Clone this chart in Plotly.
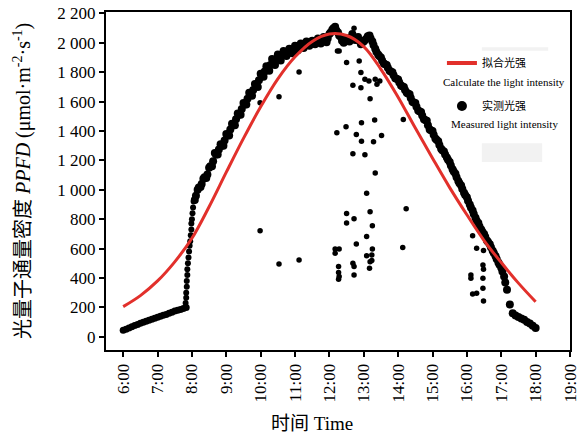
import plotly.graph_objects as go

# ---------------- data ----------------
# Main measured band, 5-minute readings (PPFD, µmol·m-2·s-1)
band_morning_times = ["6:00", "6:05", "6:10", "6:15", "6:20", "6:25", "6:30", "6:35", "6:40", "6:45",
                      "6:50", "6:55", "7:00", "7:05", "7:10", "7:15", "7:20", "7:25", "7:30", "7:35",
                      "7:40", "7:45", "7:50"]
band_morning_values = [45, 52, 60, 68, 76, 84, 92, 98, 105, 112,
                       119, 126, 133, 140, 146, 152, 160, 167, 175, 181,
                       186, 193, 200]

jump_times = ["7:49", "7:50", "7:50", "7:51", "7:51", "7:52", "7:52", "7:53", "7:54", "7:55",
              "7:56", "7:57", "7:58", "7:59", "7:59", "8:00", "8:01", "8:02", "8:03"]
jump_values = [230, 265, 300, 340, 380, 420, 460, 500, 540, 580,
               620, 650, 690, 730, 770, 800, 840, 880, 920]

band_day_times = ["8:05", "8:10", "8:15", "8:20", "8:25", "8:30", "8:35", "8:40", "8:45", "8:50", "8:55",
                  "9:00", "9:05", "9:10", "9:15", "9:20", "9:25", "9:30", "9:35", "9:40", "9:45", "9:50", "9:55",
                  "10:00", "10:05", "10:10", "10:15", "10:20", "10:25", "10:30", "10:35", "10:40", "10:45", "10:50", "10:55",
                  "11:00", "11:05", "11:10", "11:15", "11:20", "11:25", "11:30", "11:35", "11:40", "11:45", "11:50", "11:55",
                  "12:00", "12:05", "12:10", "12:15", "12:20", "12:25", "12:30", "12:35", "12:40", "12:45", "12:50", "12:55",
                  "13:00", "13:05", "13:10", "13:15", "13:20", "13:25", "13:30", "13:35", "13:40", "13:45", "13:50", "13:55",
                  "14:00", "14:05", "14:10", "14:15", "14:20", "14:25", "14:30", "14:35", "14:40", "14:45", "14:50", "14:55",
                  "15:00", "15:05", "15:10", "15:15", "15:20", "15:25", "15:30", "15:35", "15:40", "15:45", "15:50", "15:55",
                  "16:00", "16:05", "16:10", "16:15", "16:20", "16:25", "16:30", "16:35", "16:40", "16:45", "16:50", "16:55",
                  "17:00", "17:05", "17:10", "17:15", "17:20", "17:25", "17:30", "17:35", "17:40", "17:45", "17:50", "17:55",
                  "18:00"]
band_day_values = [930, 1000, 1020, 1075, 1080, 1150, 1160, 1250, 1240, 1310, 1300,
                   1380, 1370, 1450, 1440, 1520, 1510, 1590, 1580, 1660, 1640, 1720, 1700,
                   1790, 1770, 1840, 1810, 1890, 1850, 1920, 1880, 1945, 1910, 1960, 1930,
                   1980, 1950, 1995, 1965, 2010, 1980, 2015, 1990, 2030, 1995, 2040, 2005,
                   2060, 2090, 2110, 2070, 2040, 2000, 2030, 2010, 2060, 2020, 2040, 1990,
                   2010, 2030, 2050, 2010, 1960, 1920, 1900, 1860, 1850, 1810, 1800, 1760,
                   1750, 1710, 1700, 1660, 1650, 1600, 1590, 1540, 1530, 1480, 1470, 1410,
                   1400, 1350, 1330, 1280, 1260, 1220, 1190, 1140, 1110, 1060, 1030, 980,
                   950, 900, 860, 810, 775, 730, 700, 655, 630, 585, 550, 505,
                   470, 410, 320, 220, 160, 145, 135, 125, 115, 100, 90, 75,
                   60]

# Second reading of the band, two minutes after each of the above
band_day2_times = ["8:07", "8:12", "8:17", "8:22", "8:27", "8:32", "8:37", "8:42", "8:47", "8:52", "8:57",
                   "9:02", "9:07", "9:12", "9:17", "9:22", "9:27", "9:32", "9:37", "9:42", "9:47", "9:52", "9:57",
                   "10:02", "10:07", "10:12", "10:17", "10:22", "10:27", "10:32", "10:37", "10:42", "10:47", "10:52", "10:57",
                   "11:02", "11:07", "11:12", "11:17", "11:22", "11:27", "11:32", "11:37", "11:42", "11:47", "11:52", "11:57",
                   "12:02", "12:07", "12:12", "12:17", "12:22", "12:27", "12:32", "12:37", "12:42", "12:47", "12:52", "12:57",
                   "13:02", "13:07", "13:12", "13:17", "13:22", "13:27", "13:32", "13:37", "13:42", "13:47", "13:52", "13:57",
                   "14:02", "14:07", "14:12", "14:17", "14:22", "14:27", "14:32", "14:37", "14:42", "14:47", "14:52", "14:57",
                   "15:02", "15:07", "15:12", "15:17", "15:22", "15:27", "15:32", "15:37", "15:42", "15:47", "15:52", "15:57",
                   "16:02", "16:07", "16:12", "16:17", "16:22", "16:27", "16:32", "16:37", "16:42", "16:47", "16:52", "16:57",
                   "17:02", "17:07"]
band_day2_values = [960, 1015, 1040, 1085, 1105, 1160, 1195, 1240, 1275, 1300, 1335,
                    1370, 1410, 1440, 1480, 1510, 1550, 1580, 1620, 1645, 1680, 1705, 1745,
                    1775, 1805, 1825, 1850, 1865, 1885, 1900, 1915, 1925, 1935, 1945, 1955,
                    1965, 1975, 1980, 1990, 1995, 2000, 2005, 2010, 2015, 2020, 2025, 2030,
                    2070, 2100, 2085, 2050, 2015, 2015, 2020, 2035, 2040, 2030, 2015, 2000,
                    2020, 2045, 2030, 1985, 1940, 1910, 1880, 1855, 1830, 1805, 1780, 1755,
                    1730, 1705, 1680, 1655, 1625, 1595, 1565, 1535, 1505, 1475, 1440, 1405,
                    1375, 1340, 1305, 1270, 1240, 1205, 1165, 1125, 1085, 1045, 1005, 965,
                    925, 880, 835, 790, 750, 715, 680, 645, 610, 570, 530, 490,
                    445, 370]

# Isolated measured points (cloud shading) away from the band
outlier_times = ["9:59", "9:59", "10:32", "10:32", "11:07", "11:07", "12:14", "12:17", "12:30", "12:43",
                 "12:52", "12:55", "12:41", "12:55", "13:02", "13:09", "13:20", "13:23", "13:28", "13:11",
                 "14:09", "12:13", "12:29", "12:56", "13:19", "12:47", "12:56", "13:17", "13:31", "12:41",
                 "13:02", "13:20", "13:05", "14:14", "13:11", "12:30", "12:30", "12:43", "13:15", "13:05",
                 "12:47", "14:08", "12:10", "12:17", "12:10", "13:15", "13:05", "13:14", "13:14", "13:11",
                 "12:41", "12:43", "12:16", "12:16", "12:17", "12:16", "12:43", "13:10",
                 "16:10", "16:17", "16:29", "16:28", "16:29", "16:07", "16:07", "16:28", "16:10", "16:17",
                 "16:28", "16:29"]
outlier_values = [721, 1593, 496, 1634, 523, 1802, 1945, 1945, 1866, 2100,
                  1877, 1798, 1711, 1695, 1752, 1741, 1752, 1718, 1741, 1620,
                  1479, 1388, 1429, 1457, 1475, 1377, 1331, 1327, 1370, 1245,
                  1238, 1115, 976, 872, 851, 838, 774, 803, 756, 683,
                  631, 608, 597, 597, 569, 597, 551, 556, 519, 510,
                  501, 478, 478, 437, 410, 392, 421, 467,
                  687, 603, 587, 489, 460, 421, 399, 399, 291, 297,
                  330, 244]

# Fitted (calculated) light intensity, half-hourly
fit_times = ["6:00", "6:30", "7:00", "7:30", "8:00", "8:30", "9:00", "9:30", "10:00", "10:30",
             "11:00", "11:30", "12:00", "12:30", "13:00", "13:30", "14:00", "14:30", "15:00", "15:30",
             "16:00", "16:30", "17:00", "17:30", "18:00"]
fit_values = [205, 280, 380, 510, 670, 885, 1120, 1350, 1565, 1755,
              1905, 2010, 2060, 2050, 1975, 1820, 1630, 1420, 1215, 1015,
              830, 655, 505, 365, 238]

tick_hours = list(range(6, 20))
tick_labels = [f"{h}:00" for h in tick_hours]

legend_fit_cn = "拟合光强"
legend_fit_en = "Calculate the light intensity"
legend_meas_cn = "实测光强"
legend_meas_en = "Measured light intensity"
x_title = "时间 Time"
y_title = "光量子通量密度 <i>PPFD</i> (μmol·m<sup>-2</sup>·s<sup>-1</sup>)"


def to_hours(ts):
    out = []
    for t in ts:
        h, m = t.split(":")
        out.append(int(h) + int(m) / 60.0)
    return out


SERIF = "Liberation Serif, 'Times New Roman', 'Noto Sans CJK SC', serif"
RED = "#e2302b"

fig = go.Figure()


def dots(x, y, size):
    return go.Scatter(x=to_hours(x), y=y, mode="markers",
                      marker=dict(color="black", size=size, line=dict(width=0)),
                      showlegend=False, hoverinfo="skip")


fig.add_trace(dots(band_morning_times, band_morning_values, 7))
fig.add_trace(dots(jump_times, jump_values, 6))
fig.add_trace(dots(band_day_times, band_day_values, 8))
fig.add_trace(dots(band_day2_times, band_day2_values, 8))
fig.add_trace(dots(outlier_times, outlier_values, 5.5))

fig.add_trace(go.Scatter(x=to_hours(fit_times), y=fit_values, mode="lines",
                         line=dict(color=RED, width=3, shape="spline"),
                         showlegend=False, hoverinfo="skip"))

# legend-only entries
fig.add_trace(go.Scatter(x=[None], y=[None], mode="lines", line=dict(color=RED, width=4),
                         name=legend_fit_cn, legendgroup="a", legendrank=1))
fig.add_trace(go.Scatter(x=[None], y=[None], mode="markers", marker=dict(color="black", size=10),
                         name=legend_meas_cn, legendgroup="b", legendrank=2))

axis_common = dict(showline=True, linewidth=2, linecolor="black", mirror=True,
                   ticks="outside", ticklen=5, tickwidth=2, tickcolor="black",
                   showgrid=False, zeroline=False, automargin=False,
                   tickfont=dict(family=SERIF, size=17, color="black"))

fig.update_layout(
    width=588, height=436, autosize=False,
    margin=dict(l=106, r=18, t=12, b=86),
    paper_bgcolor="white", plot_bgcolor="white",
    separators=". ",
    font=dict(family=SERIF, color="black"),
    xaxis=dict(range=[5.5, 19], tickvals=tick_hours, ticktext=tick_labels, tickangle=-90, **axis_common),
    yaxis=dict(range=[-90, 2210], tick0=0, dtick=200, tickformat=",d", **axis_common),
    legend=dict(x=0.724, y=0.892, xanchor="left", yanchor="top", bgcolor="rgba(0,0,0,0)",
                font=dict(family=SERIF, size=11, color="black"), tracegroupgap=24,
                traceorder="grouped"),
    shapes=[
        dict(type="rect", xref="paper", yref="paper", x0=0.81, x1=0.953, y0=0.885, y1=0.896,
             fillcolor="#f2f2f2", line=dict(width=0), layer="below"),
        dict(type="rect", xref="paper", yref="paper", x0=0.81, x1=0.94, y0=0.556, y1=0.612,
             fillcolor="#f2f2f2", line=dict(width=0), layer="below"),
    ],
    annotations=[
        dict(text=legend_fit_en, xref="paper", yref="paper", x=0.858, y=0.793,
             showarrow=False, xanchor="center", yanchor="middle",
             font=dict(family=SERIF, size=11, color="black")),
        dict(text=legend_meas_en, xref="paper", yref="paper", x=0.858, y=0.669,
             showarrow=False, xanchor="center", yanchor="middle",
             font=dict(family=SERIF, size=11, color="black")),
        dict(text=x_title, xref="paper", yref="paper", x=0.444, y=-0.216,
             showarrow=False, xanchor="center", yanchor="middle",
             font=dict(family=SERIF, size=19, color="black")),
        dict(text=y_title, xref="paper", yref="paper", x=-0.181, y=0.5, textangle=-90,
             showarrow=False, xanchor="center", yanchor="middle",
             font=dict(family=SERIF, size=20, color="black")),
    ],
)

# the page's default 8px body margin would push the fixed-size figure off the window
fig.write_html("out.html", config={"displayModeBar": False},
               post_script="document.body.style.margin='0';")
